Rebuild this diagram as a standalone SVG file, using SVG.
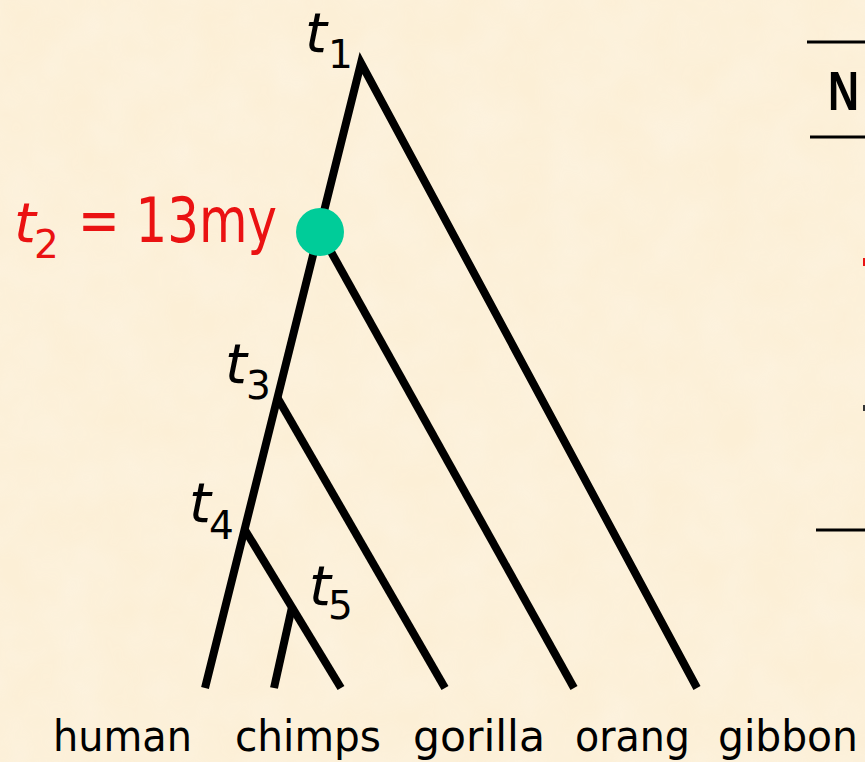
<svg xmlns="http://www.w3.org/2000/svg" width="865" height="762" viewBox="0 0 865 762">
<style>
.br{fill:none;stroke:#000;stroke-width:8;stroke-linecap:butt;stroke-linejoin:miter;stroke-miterlimit:10}
.tt{font-family:"DejaVu Sans","Liberation Sans",sans-serif;font-style:italic;font-size:56px;fill:#000}
.sb{font-family:"DejaVu Sans","Liberation Sans",sans-serif;font-size:39px;fill:#000}
.lb{font-family:"DejaVu Sans","Liberation Sans",sans-serif;font-size:43px;fill:#000}
.red{fill:#ea1212}
.rule{stroke:#000;stroke-width:3}
</style>
<defs>
<filter id="paper" x="0" y="0" width="100%" height="100%">
<feTurbulence type="fractalNoise" baseFrequency="0.02" numOctaves="3" seed="4"/>
<feColorMatrix type="matrix" values="0 0 0 0 1  0 0 0 0 1  0 0 0 0 1  0 0 0 0.5 -0.1"/>
</filter>
</defs>
<rect width="865" height="762" fill="#fcefd6"/>
<rect width="865" height="762" filter="url(#paper)" opacity="0.55"/>
<g id="connectors">
<polyline class="br" points="205,688 361,63 697,688"/>
<line class="br" x1="320" y1="232" x2="574" y2="688"/>
<line class="br" x1="277" y1="397" x2="445" y2="688"/>
<line class="br" x1="245" y1="530" x2="341" y2="688"/>
<line class="br" x1="292" y1="607" x2="274" y2="688"/>
</g>
<g id="t1"><text class="tt" x="305" y="52">t</text><text class="sb" x="328" y="68">1</text></g>
<g id="t2">
<circle cx="320" cy="232" r="24" fill="#00cc99"/>
<text class="tt red" x="14" y="242">t</text><text class="sb red" x="34" y="258">2</text>
<text class="red" x="78" y="242" font-family="DejaVu Sans, Liberation Sans, sans-serif" font-size="62" textLength="199" lengthAdjust="spacingAndGlyphs">= 13my</text>
</g>
<g id="t3"><text class="tt" x="225" y="383">t</text><text class="sb" x="246" y="399">3</text></g>
<g id="t4"><text class="tt" x="189" y="522">t</text><text class="sb" x="209" y="539">4</text></g>
<g id="t5"><text class="tt" x="309" y="605">t</text><text class="sb" x="328" y="619">5</text></g>
<g id="labels">
<text class="lb" x="53" y="751" textLength="139" lengthAdjust="spacingAndGlyphs">human</text>
<text class="lb" x="235" y="751" textLength="146" lengthAdjust="spacingAndGlyphs">chimps</text>
<text class="lb" x="413" y="751" textLength="132" lengthAdjust="spacingAndGlyphs">gorilla</text>
<text class="lb" x="575" y="751" textLength="115" lengthAdjust="spacingAndGlyphs">orang</text>
<text class="lb" x="718" y="751" textLength="140" lengthAdjust="spacingAndGlyphs">gibbon</text>
</g>
<g id="table">
<line class="rule" x1="807" y1="42" x2="865" y2="42"/>
<text x="828" y="110" font-family="Liberation Sans, Arial, sans-serif" font-weight="bold" font-size="56" textLength="31" lengthAdjust="spacingAndGlyphs">N</text>
<line class="rule" x1="810" y1="137" x2="865" y2="137"/>
<rect x="863" y="258" width="2" height="8" fill="#ea1212"/>
<rect x="863" y="405" width="2" height="6" fill="#333"/>
<line class="rule" x1="816" y1="530" x2="865" y2="530"/>
</g>
</svg>
